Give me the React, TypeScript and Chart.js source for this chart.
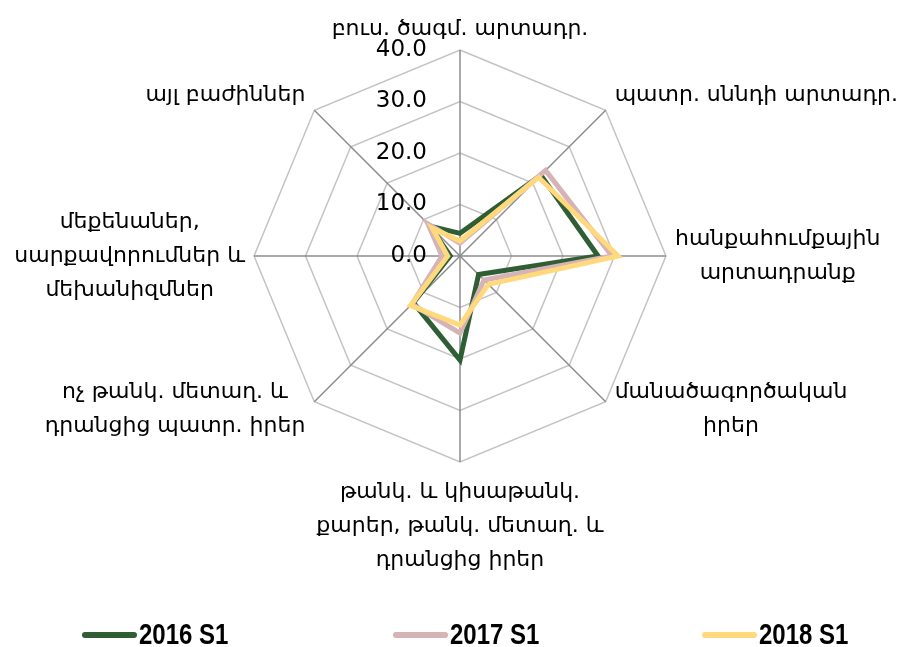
import React, { useEffect, useRef } from "react";
import { Chart, registerables } from "chart.js";

Chart.register(...registerables);

const categories: string[][] = [
  ["բուս. ծագմ. արտադր."],
  ["պատր. սննդի արտադր."],
  ["հանքահումքային", "արտադրանք"],
  ["մանածագործական", "իրեր"],
  ["թանկ. և կիսաթանկ.", "քարեր, թանկ. մետաղ. և", "դրանցից իրեր"],
  ["ոչ թանկ. մետաղ. և", "դրանցից պատր. իրեր"],
  ["մեքենաներ,", "սարքավորումներ և", "մեխանիզմներ"],
  ["այլ բաժիններ"],
];

const seriesNames = ["2016 S1", "2017 S1", "2018 S1"];
const values2016 = [4.4, 22.2, 26.8, 5.1, 20.2, 12.8, 1.9, 8.2];
const values2017 = [2.5, 23.5, 29.5, 6.6, 15.0, 13.2, 3.5, 8.8];
const values2018 = [2.9, 21.6, 30.7, 7.8, 13.4, 13.6, 2.4, 7.6];
const seriesColors = ["#2f5e34", "#d5b3b6", "#ffd97c"];

const tickValues = [0, 10, 20, 30, 40];
const tickLabels = ["0.0", "10.0", "20.0", "30.0", "40.0"];

const LABEL_FONT = "22px 'DejaVu Sans', sans-serif";
const TICK_FONT = "23px 'DejaVu Sans', sans-serif";
const LEGEND_FONT = "bold 30px 'Liberation Sans', Arial, sans-serif";

const textPlugin = {
  id: "radarText",
  afterDraw(chart: any) {
    const scale = chart.scales.r;
    const ctx: CanvasRenderingContext2D = chart.ctx;
    ctx.save();
    ctx.fillStyle = "#000";

    // tick labels
    ctx.font = TICK_FONT;
    ctx.textAlign = "right";
    ctx.textBaseline = "middle";
    tickValues.forEach((v, i) => {
      const d = scale.getDistanceFromCenterForValue(v);
      ctx.fillText(tickLabels[i], scale.xCenter - 33, scale.yCenter - d);
    });

    // point labels
    ctx.font = LABEL_FONT;
    ctx.textAlign = "center";
    const lineH = 34;
    const pad = 9;
    categories.forEach((lines, i) => {
      const p = scale.getPointPosition(i, scale.drawingArea);
      const bw = Math.max(...lines.map((l) => ctx.measureText(l).width));
      const bh = lines.length * lineH;
      const angle = Math.round((i * 360) / categories.length);
      let cx = p.x;
      let top = p.y;
      switch (angle) {
        case 0:
          cx = p.x;
          top = p.y - pad - bh + 5;
          break;
        case 45:
          cx = p.x + pad + bw / 2;
          top = p.y - bh + 2;
          break;
        case 90:
          cx = p.x + pad + bw / 2;
          top = p.y - bh / 2;
          break;
        case 135:
          cx = p.x + pad + bw / 2;
          top = p.y - bh / 2 + 8;
          break;
        case 180:
          cx = p.x;
          top = p.y + 13;
          break;
        case 225:
          cx = p.x - pad - bw / 2;
          top = p.y - bh / 2 + 8;
          break;
        case 270:
          cx = p.x - pad - bw / 2;
          top = p.y - bh / 2;
          break;
        default:
          cx = p.x - pad - bw / 2;
          top = p.y - bh + 2;
      }
      lines.forEach((l, j) => {
        ctx.fillText(l, cx, top + lineH * (j + 0.5));
      });
    });

    // legend
    const legendY = 635;
    const startXs = [82, 393, 702];
    chart.data.datasets.forEach((ds: any, i: number) => {
      const x = startXs[i];
      ctx.beginPath();
      ctx.lineWidth = 6;
      ctx.lineCap = "round";
      ctx.strokeStyle = ds.borderColor;
      ctx.moveTo(x + 3, legendY);
      ctx.lineTo(x + 52, legendY);
      ctx.stroke();
      ctx.save();
      ctx.font = LEGEND_FONT;
      ctx.textAlign = "left";
      ctx.textBaseline = "middle";
      ctx.fillStyle = "#000";
      ctx.translate(x + 57, legendY + 1);
      ctx.scale(0.8, 1);
      ctx.fillText(ds.label, 0, 0);
      ctx.restore();
    });
    ctx.restore();
  },
};

export default function App() {
  const ref = useRef<HTMLCanvasElement | null>(null);
  useEffect(() => {
    if (!ref.current) return;
    const seriesValues = [values2016, values2017, values2018];
    const chart = new Chart(ref.current, {
      type: "radar",
      data: {
        labels: categories.map((l) => l.join(" ")),
        datasets: seriesNames.map((name, i) => ({
          label: name,
          data: seriesValues[i],
          borderColor: seriesColors[i],
          backgroundColor: seriesColors[i],
          fill: false,
          borderWidth: 5,
          pointRadius: 0,
          order: 2 - i,
        })),
      },
      options: {
        animation: false,
        responsive: true,
        maintainAspectRatio: false,
        layout: { padding: { left: 254, right: 243, top: 50, bottom: 185 } },
        plugins: {
          legend: { display: false },
          tooltip: { enabled: false },
        },
        elements: { line: { tension: 0, borderJoinStyle: "miter" } },
        scales: {
          r: {
            min: 0,
            max: 40,
            ticks: { stepSize: 10, display: false },
            pointLabels: { display: false },
            grid: { color: "#c3c3c3", lineWidth: 1.5 },
            angleLines: { color: "#8c8c8c", lineWidth: 1.5 },
          },
        },
      },
      plugins: [textPlugin],
    } as any);
    return () => chart.destroy();
  }, []);
  return (
    <div style={{ position: "fixed", left: 0, top: 0, width: 909, height: 647, background: "#fff" }}>
      <canvas ref={ref} />
    </div>
  );
}
